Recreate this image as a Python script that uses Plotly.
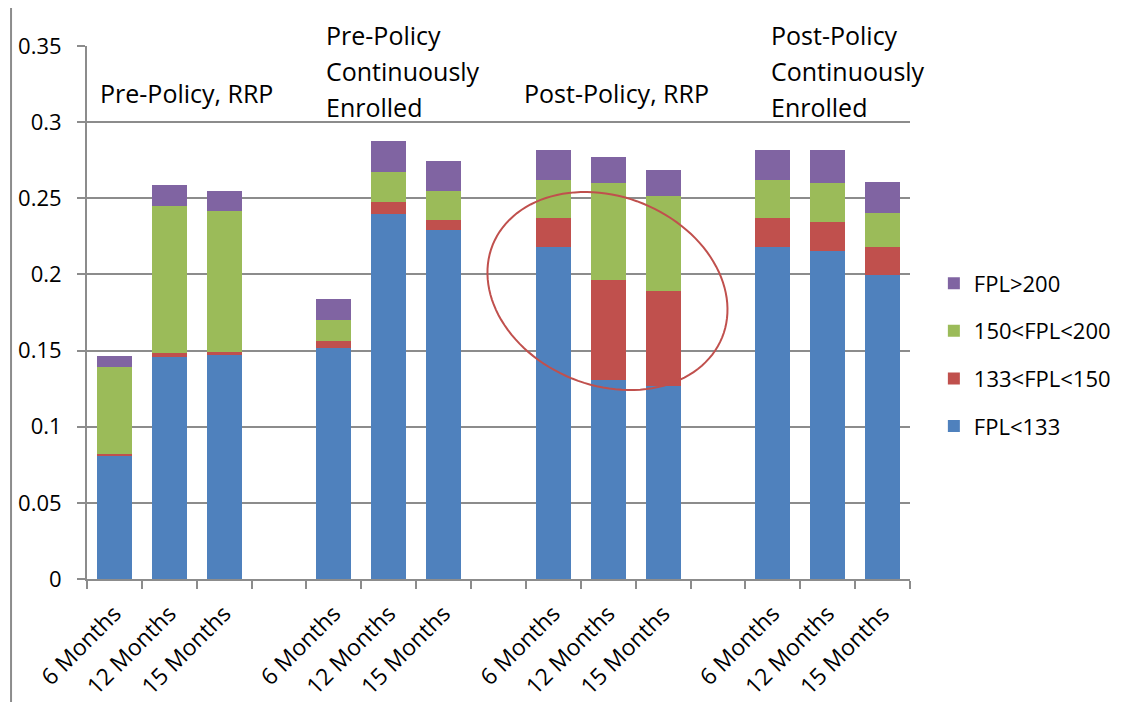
import numpy as np
import plotly.graph_objects as go

# ---------------- data ----------------
groups = ["Pre-Policy, RRP", "Pre-Policy<br>Continuously<br>Enrolled",
          "Post-Policy, RRP", "Post-Policy<br>Continuously<br>Enrolled"]
periods = ["6 Months", "12 Months", "15 Months"]

fpl_lt133 = [0.081, 0.146, 0.147, 0.1515, 0.2396, 0.229, 0.2178, 0.1309, 0.127, 0.2178, 0.2156, 0.1998]
fpl_133_150 = [0.001, 0.0027, 0.002, 0.005, 0.008, 0.0068, 0.0193, 0.0654, 0.062, 0.0193, 0.019, 0.018]
fpl_150_200 = [0.057, 0.0963, 0.0926, 0.0135, 0.0196, 0.0191, 0.025, 0.064, 0.0628, 0.025, 0.0257, 0.0228]
fpl_gt200 = [0.0075, 0.0134, 0.0134, 0.0137, 0.0204, 0.0194, 0.0197, 0.0171, 0.0166, 0.0197, 0.0215, 0.0201]

series_names = ["FPL<133", "133<FPL<150", "150<FPL<200", "FPL>200"]
series_values = [fpl_lt133, fpl_133_150, fpl_150_200, fpl_gt200]
colors = ["#4F81BD", "#C0504D", "#9BBB59", "#8064A2"]

y_ticks = [0, 0.05, 0.1, 0.15, 0.2, 0.25, 0.3, 0.35]
y_tick_text = ["0", "0.05", "0.1", "0.15", "0.2", "0.25", "0.3", "0.35"]

# category slots: 3 bars per group, one empty slot between groups
slots_per_group = len(periods) + 1
x_pos = [g * slots_per_group + k for g in range(len(groups)) for k in range(len(periods))]
x_labels = [p for g in range(len(groups)) for p in periods]

FONT = "Open Sans"
GRID = "#8C8C8C"

W, H = 1123, 694
M = dict(l=79, r=221, t=38, b=123)
n_slots = len(groups) * slots_per_group - 1
x_range = [-0.5, n_slots - 0.5]
y_range = [0, 0.35]

fig = go.Figure()
n_series = len(series_names)
for i, (name, vals, col) in enumerate(zip(series_names, series_values, colors)):
    fig.add_trace(go.Bar(
        x=x_pos, y=vals, name=name, legendgroup=name,
        legendrank=(n_series - i) * 100,
        marker=dict(color=col, line=dict(width=0)),
    ))

fig.update_layout(
    barmode="stack",
    bargap=0.36,
    width=W, height=H,
    margin=dict(**M, pad=0, autoexpand=False),
    paper_bgcolor="white", plot_bgcolor="white",
    font=dict(family=FONT, size=22, color="black"),
    showlegend=True,
    legend=dict(
        x=1.029, xanchor="left", y=0.594, yanchor="top",
        traceorder="grouped", tracegroupgap=16,
        font=dict(family=FONT, size=22, color="black"),
        itemwidth=30, bgcolor="rgba(0,0,0,0)",
    ),
    xaxis=dict(
        range=x_range, automargin=False,
        tickmode="array", tickvals=x_pos, ticktext=x_labels,
        tickangle=-45, ticks="", showgrid=False, zeroline=False,
        showline=True, linecolor=GRID, linewidth=2,
        ticklabelstandoff=10,
        tickfont=dict(family=FONT, size=23, color="black"),
        minor=dict(tickmode="linear", tick0=-0.5, dtick=1, ticks="outside",
                   ticklen=8, tickwidth=2, tickcolor=GRID, showgrid=False),
    ),
    yaxis=dict(
        range=y_range, automargin=False,
        tickmode="array", tickvals=y_ticks, ticktext=y_tick_text,
        showgrid=True, gridcolor=GRID, gridwidth=2,
        zeroline=False, showline=True, linecolor=GRID, linewidth=2,
        ticks="outside", ticklen=8, tickwidth=2, tickcolor=GRID,
        ticklabelstandoff=11,
        tickfont=dict(family=FONT, size=22, color="black"),
    ),
)

# group titles (each line placed separately to match the original line spacing)
title_x = [-0.3, 3.82, 7.43, 11.93]
title_y = [0.319, 0.3337, 0.319, 0.3337]
LINE_SPACING = 36
for txt, tx, ty in zip(groups, title_x, title_y):
    lines = txt.split("<br>")
    n = len(lines)
    for j, line in enumerate(lines):
        fig.add_annotation(x=tx, y=ty, xref="x", yref="y", text=line, showarrow=False,
                           xanchor="left", yanchor="middle", align="left",
                           yshift=((n - 1) / 2 - j) * LINE_SPACING,
                           font=dict(family=FONT, size=25, color="black"))

# highlight ellipse (slightly tilted) around the post-policy RRP bars
px_per_x = (W - M["l"] - M["r"]) / (x_range[1] - x_range[0])
px_per_y = (H - M["t"] - M["b"]) / (y_range[1] - y_range[0])
ell_cx, ell_cy = 8.986, 0.1891        # centre in data units
ell_a, ell_b, ell_rot = 123.7, 94.4, np.deg2rad(22)  # semi-axes in px, clockwise tilt
t = np.linspace(0, 2 * np.pi, 121)
dx = ell_a * np.cos(t) * np.cos(ell_rot) - ell_b * np.sin(t) * np.sin(ell_rot)
dy = ell_a * np.cos(t) * np.sin(ell_rot) + ell_b * np.sin(t) * np.cos(ell_rot)  # screen-down
ex = ell_cx + dx / px_per_x
ey = ell_cy - dy / px_per_y
path = "M " + " L ".join(f"{a:.4f},{b:.5f}" for a, b in zip(ex, ey)) + " Z"
fig.add_shape(type="path", xref="x", yref="y", path=path,
              line=dict(color="#C0504D", width=2), fillcolor="rgba(0,0,0,0)")

# chart-area border (left and top)
fig.add_shape(type="line", xref="paper", yref="paper", x0=-0.0923, x1=-0.0923, y0=-0.25, y1=1.075,
              line=dict(color=GRID, width=2))
fig.add_shape(type="line", xref="paper", yref="paper", x0=-0.0923, x1=1.3, y0=1.075, y1=1.075,
              line=dict(color=GRID, width=2))

fig.write_html("out.html")
